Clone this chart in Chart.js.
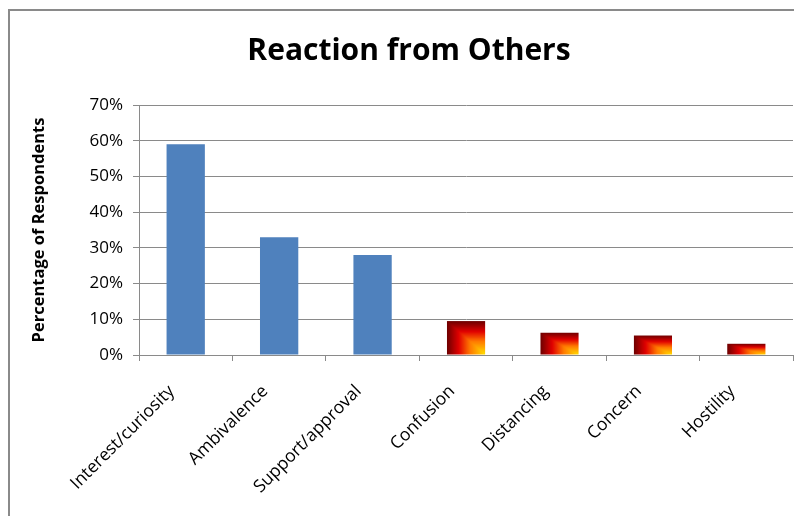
<!DOCTYPE html>
<html>
<head>
<meta charset="utf-8">
<script src="https://cdn.jsdelivr.net/npm/chart.js@4.4.1/dist/chart.umd.min.js"></script>
<style>
  html, body { margin: 0; padding: 0; background: #fff; }
  #wrap { position: relative; width: 794px; height: 516px; overflow: hidden; }
  #frame { position: absolute; left: 8px; top: 9px; right: -10px; bottom: -10px;
           border-left: 2px solid #8a8a8a; border-top: 2px solid #8a8a8a; }
  #chart { position: absolute; left: 0; top: 0; }
</style>
</head>
<body>
<div id="wrap">
  <div id="frame"></div>
  <canvas id="chart" width="794" height="516"></canvas>
</div>
<script>
// Survey answers, percent of respondents
const categories = ['Interest/curiosity', 'Ambivalence', 'Support/approval', 'Confusion', 'Distancing', 'Concern', 'Hostility'];
const percentages = [59, 33, 28, 9.5, 6.3, 5.5, 3.2];
const yTicks = [0, 10, 20, 30, 40, 50, 60, 70];

const BLUE = '#4f81bd';
const GRID = '#8a8a8a';
const FONT = '"Open Sans", sans-serif';
const BAR_PCT = 0.41;

// colour ramp for the "heat" bars: dark red in the top-left, yellow in the bottom-right corner
const heatStops = [
    [0.0, [112, 0, 0]],
    [0.3, [224, 0, 0]],
    [0.6, [255, 122, 0]],
    [1.0, [255, 226, 0]]
];

function heatColor(t) {
    for (let i = 1; i < heatStops.length; i++) {
        const [t1, c1] = heatStops[i];
        const [t0, c0] = heatStops[i - 1];
        if (t <= t1) {
            const k = (t - t0) / (t1 - t0);
            const c = c0.map((v, j) => Math.round(v + (c1[j] - v) * k));
            return `rgb(${c[0]},${c[1]},${c[2]})`;
        }
    }
    return 'rgb(255,226,0)';
}

// rectangular corner gradient, painted into a pattern sized to the bar
function heatPattern(chart, index, value) {
    const xs = chart.scales.x, ys = chart.scales.y;
    if (!xs || !ys || !chart.chartArea) return '#e00000';
    const bw = xs.width / categories.length * BAR_PCT;
    const left = xs.getPixelForValue(index) - bw / 2;
    const top = ys.getPixelForValue(value);
    const h = ys.getPixelForValue(0) - top;
    const w = Math.max(1, Math.ceil(bw));
    const hh = Math.max(1, Math.ceil(h));
    const off = document.createElement('canvas');
    off.width = w;
    off.height = hh;
    const g = off.getContext('2d');
    const steps = 40;
    for (let s = 0; s < steps; s++) {
        g.fillStyle = heatColor(s / (steps - 1));
        g.fillRect(w * s / steps, hh * s / steps, w, hh);
    }
    const pat = chart.ctx.createPattern(off, 'no-repeat');
    pat.setTransform(new DOMMatrix([1, 0, 0, 1, left, top]));
    return pat;
}

const ctx = document.getElementById('chart').getContext('2d');
const chart = new Chart(ctx, {
    type: 'bar',
    data: {
        labels: categories,
        datasets: [{
            data: percentages,
            backgroundColor: (c) => {
                if (c.type !== 'data') return BLUE;
                return c.dataIndex < 3 ? BLUE : heatPattern(c.chart, c.dataIndex, c.raw);
            },
            borderWidth: 0,
            barPercentage: BAR_PCT,
            categoryPercentage: 1
        }]
    },
    options: {
        responsive: false,
        animation: false,
        layout: { padding: { left: 25, right: 1, top: 0, bottom: 0 } },
        plugins: {
            legend: { display: false },
            tooltip: { enabled: false },
            title: {
                display: true,
                text: 'Reaction from Others',
                color: '#000',
                font: { family: FONT, size: 30, weight: 'bold', lineHeight: 1.2 },
                padding: { top: 33, bottom: 36 }
            }
        },
        scales: {
            x: {
                grid: {
                    display: true,
                    offset: true,
                    drawOnChartArea: false,
                    drawTicks: true,
                    tickLength: 6,
                    color: GRID
                },
                border: { display: true, color: GRID, width: 1 },
                ticks: {
                    autoSkip: false,
                    maxRotation: 45,
                    minRotation: 45,
                    padding: 20,
                    labelOffset: -14,
                    color: '#000',
                    font: { family: FONT, size: 17.5 }
                },
                afterFit: (s) => { s.height = 161; }
            },
            y: {
                min: 0,
                max: 70,
                afterBuildTicks: (s) => { s.ticks = yTicks.map(v => ({ value: v })); },
                grid: {
                    color: GRID,
                    lineWidth: 1,
                    drawTicks: true,
                    tickLength: 6
                },
                border: { display: true, color: GRID, width: 1 },
                ticks: {
                    padding: 10,
                    color: '#000',
                    font: { family: FONT, size: 17 },
                    callback: (v) => v + '%'
                },
                title: {
                    display: true,
                    text: 'Percentage of Respondents',
                    color: '#000',
                    font: { family: FONT, size: 16.5, weight: 'bold', lineHeight: 1.2 },
                    padding: { top: 4, bottom: 0 }
                },
                afterFit: (s) => { s.width = 114; }
            }
        }
    }
});
</script>
</body>
</html>
